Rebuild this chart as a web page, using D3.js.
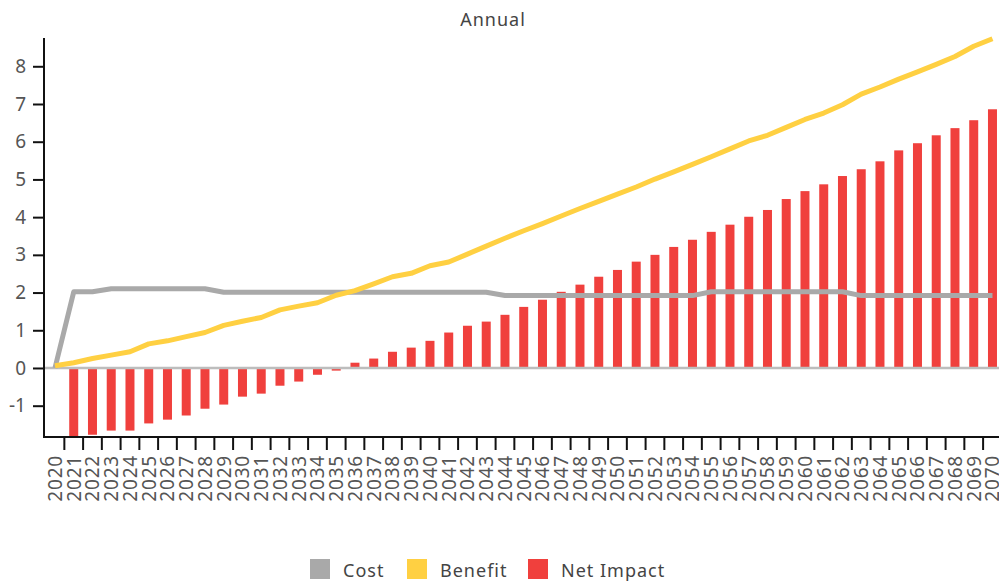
<!DOCTYPE html>
<html>
<head>
<meta charset="utf-8">
<script src="https://cdn.jsdelivr.net/npm/d3@7"></script>
<style>
  html, body { margin: 0; padding: 0; background: #fff; }
  svg { display: block; font-family: "Noto Sans", sans-serif; }
</style>
</head>
<body>
<svg id="chart" width="999" height="581"></svg>
<script>
const years = ["2020","2021","2022","2023","2024","2025","2026","2027","2028","2029",
  "2030","2031","2032","2033","2034","2035","2036","2037","2038","2039",
  "2040","2041","2042","2043","2044","2045","2046","2047","2048","2049",
  "2050","2051","2052","2053","2054","2055","2056","2057","2058","2059",
  "2060","2061","2062","2063","2064","2065","2066","2067","2068","2069","2070"];

const cost = [0, 2.02, 2.02, 2.10, 2.10, 2.10, 2.10, 2.10, 2.10, 2.01,
  2.01, 2.01, 2.01, 2.01, 2.01, 2.01, 2.01, 2.01, 2.01, 2.01,
  2.01, 2.01, 2.01, 2.01, 1.92, 1.92, 1.92, 1.92, 1.92, 1.92,
  1.92, 1.92, 1.92, 1.92, 1.92, 2.02, 2.02, 2.02, 2.02, 2.02,
  2.02, 2.02, 2.02, 1.92, 1.92, 1.92, 1.92, 1.92, 1.92, 1.92, 1.92];

const benefit = [0.06, 0.14, 0.25, 0.34, 0.43, 0.64, 0.72, 0.83, 0.94, 1.13,
  1.24, 1.34, 1.54, 1.64, 1.73, 1.93, 2.05, 2.23, 2.42, 2.51,
  2.71, 2.81, 3.02, 3.23, 3.44, 3.64, 3.83, 4.03, 4.23, 4.42,
  4.61, 4.80, 5.01, 5.20, 5.40, 5.60, 5.81, 6.02, 6.17, 6.38,
  6.59, 6.76, 6.98, 7.26, 7.45, 7.66, 7.85, 8.05, 8.26, 8.53, 8.73];

const netImpact = [0, -1.83, -1.77, -1.66, -1.66, -1.47, -1.37, -1.26, -1.08, -0.97,
  -0.76, -0.68, -0.47, -0.36, -0.18, -0.07, 0.14, 0.25, 0.43, 0.54,
  0.72, 0.94, 1.12, 1.23, 1.41, 1.62, 1.81, 2.02, 2.21, 2.42,
  2.60, 2.82, 3.00, 3.21, 3.40, 3.61, 3.80, 4.01, 4.19, 4.48,
  4.69, 4.87, 5.09, 5.27, 5.48, 5.77, 5.96, 6.17, 6.36, 6.57, 6.86];

const yTicks = [-1, 0, 1, 2, 3, 4, 5, 6, 7, 8];
const seriesNames = ["Cost", "Benefit", "Net Impact"];
const seriesColors = ["#a9a9a9", "#ffd042", "#f0403d"];

const svg = d3.select("#chart");

const x = d3.scaleBand().domain(years).range([45.6, 1001.85]).paddingInner(0.52).paddingOuter(0.26);
const y = d3.scaleLinear().domain([-1.83, 8.75]).range([437, 38]);
const step = x.step();
const cx = d => x(d) + x.bandwidth() / 2;

// title
svg.append("text").attr("x", 493).attr("y", 26).attr("text-anchor", "middle")
  .attr("font-size", 18).attr("fill", "#444").attr("letter-spacing", "1px").text("Annual");

// bars
svg.append("g").selectAll("rect").data(years.map((yr, i) => ({yr, v: netImpact[i]})).filter(d => d.v !== 0))
  .join("rect")
  .attr("x", d => x(d.yr)).attr("width", x.bandwidth())
  .attr("y", d => y(Math.max(0, d.v)))
  .attr("height", d => Math.abs(y(d.v) - y(0)))
  .attr("fill", seriesColors[2]);

// zero line
svg.append("line").attr("x1", 44).attr("x2", 999).attr("y1", y(0)).attr("y2", y(0))
  .attr("stroke", "#bdbdbd").attr("stroke-width", 2.5);

// lines
const lineGen = arr => d3.line().x((d, i) => cx(years[i])).y(d => y(d))(arr);
svg.append("path").attr("d", lineGen(cost)).attr("fill", "none")
  .attr("stroke", seriesColors[0]).attr("stroke-width", 5).attr("stroke-linejoin", "round");
svg.append("path").attr("d", lineGen(benefit)).attr("fill", "none")
  .attr("stroke", seriesColors[1]).attr("stroke-width", 5).attr("stroke-linejoin", "round");

// y axis
const yAxis = svg.append("g").attr("transform", "translate(44,0)")
  .call(d3.axisLeft(y).tickValues(yTicks).tickSize(11).tickPadding(7).tickFormat(d => String(d)));
yAxis.select(".domain").attr("d", `M0,38V${y(-1.83)}`).attr("stroke", "#111").attr("stroke-width", 2);
yAxis.selectAll(".tick line").attr("stroke", "#111").attr("stroke-width", 2);
yAxis.selectAll(".tick text").attr("font-size", 19).attr("fill", "#555").attr("font-family", "Noto Sans");

// x axis
const xAxisG = svg.append("g").attr("transform", "translate(0,437)");
xAxisG.append("line").attr("x1", 43).attr("x2", 1002).attr("y1", 0).attr("y2", 0)
  .attr("stroke", "#111").attr("stroke-width", 2);
xAxisG.selectAll("line.tk").data(years).join("line").attr("class", "tk")
  .attr("x1", d => cx(d) + step / 2).attr("x2", d => cx(d) + step / 2)
  .attr("y1", 0).attr("y2", 13).attr("stroke", "#111").attr("stroke-width", 2);
xAxisG.selectAll("text").data(years).join("text")
  .attr("transform", d => `translate(${cx(d)},18) rotate(-90)`)
  .attr("text-anchor", "end").attr("dy", "0.36em")
  .attr("font-size", 19).attr("fill", "#555").attr("letter-spacing", "0.8px").text(d => d);

// legend
const legendX = [310, 407, 528];
const lg = svg.append("g");
seriesNames.forEach((name, i) => {
  lg.append("rect").attr("x", legendX[i]).attr("y", 559).attr("width", 20).attr("height", 20)
    .attr("fill", seriesColors[i]);
  lg.append("text").attr("x", legendX[i] + 33).attr("y", 577).attr("font-size", 18)
    .attr("letter-spacing", "1px").attr("fill", "#444").text(name);
});
</script>
</body>
</html>
